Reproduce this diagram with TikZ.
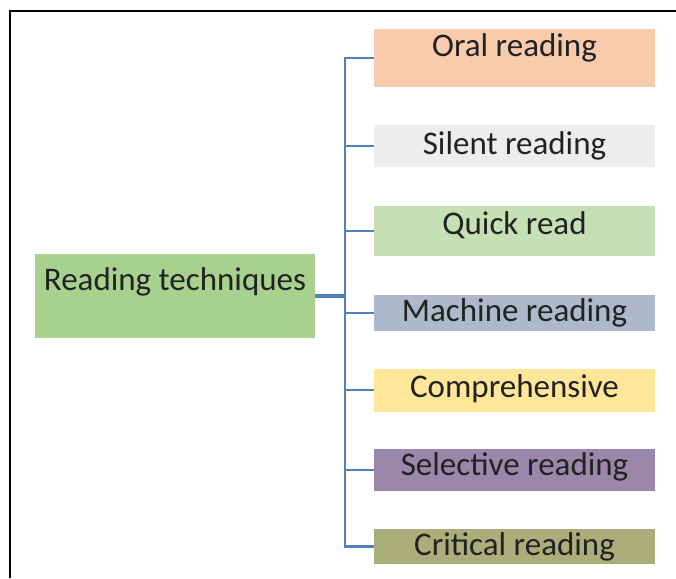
\documentclass[tikz,border=0pt]{standalone}
\usepackage{fontspec}
\setmainfont{Carlito}
\definecolor{cOral}{HTML}{F8CBAD}
\definecolor{cSilent}{HTML}{EDEDED}
\definecolor{cQuick}{HTML}{C5E0B4}
\definecolor{cRoot}{HTML}{A9D18E}
\definecolor{cMachine}{HTML}{ADB9CA}
\definecolor{cComp}{HTML}{FFE699}
\definecolor{cSel}{HTML}{9B87A9}
\definecolor{cCrit}{HTML}{AAAE7A}
\definecolor{cLine}{HTML}{4F81BD}
\definecolor{cText}{HTML}{222222}
\begin{document}
\begin{tikzpicture}[x=1pt,y=-1pt,
  boxs/.style={draw=none, inner sep=0pt, minimum width=281pt},
  lbl/.style={inner sep=0pt, text=cText, font=\fontsize{33}{39}\selectfont},
  conn/.style={draw=cLine, line width=2.5pt},
  stub/.style={draw=cLine, line width=3.5pt}]
\useasboundingbox (0,0) rectangle (676,578);
\fill[white] (0,0) rectangle (676,578);
% frame
\draw[line width=1.6pt, black] (10,578) -- (10,11) -- (676,11);
% root
\node[boxs, fill=cRoot, minimum width=280pt, minimum height=84pt] (root) at (175,296) {};
\node[lbl] (rootT) at (175,282) {Reading techniques};
% children
\node[boxs, fill=cOral, minimum height=58pt] (oral) at (514.5,58) {};
\node[lbl] (oralT) at (514.5,48) {Oral reading};
\node[boxs, fill=cSilent, minimum height=42pt] (silent) at (514.5,146) {};
\node[lbl] (silentT) at (514.5,146) {Silent reading};
\node[boxs, fill=cQuick, minimum height=50pt] (quick) at (514.5,231) {};
\node[lbl] (quickT) at (514.5,225) {Quick read};
\node[boxs, fill=cMachine, minimum height=36pt] (machine) at (514.5,313) {};
\node[lbl] (machineT) at (514.5,313) {Machine reading};
\node[boxs, fill=cComp, minimum height=43pt] (comp) at (514.5,390) {};
\node[lbl] (compT) at (514.5,389) {Comprehensive};
\node[boxs, fill=cSel, minimum height=42pt] (sel) at (514.5,470) {};
\node[lbl] (selT) at (514.5,467) {Selective reading};
\node[boxs, fill=cCrit, minimum height=35pt] (crit) at (514.5,546.5) {};
\node[lbl] (critT) at (514.5,547) {Critical reading};
% trunk
\coordinate (jn) at (345,296);
\draw[stub] (root.east) -- (jn);
\draw[conn] (oral.west) -- (oral.west -| jn) -- (crit.west -| jn) -- (crit.west);
\foreach \n in {silent,quick,machine,comp,sel}
  \draw[conn] (\n.west -| jn) -- (\n.west);
\end{tikzpicture}
\end{document}
